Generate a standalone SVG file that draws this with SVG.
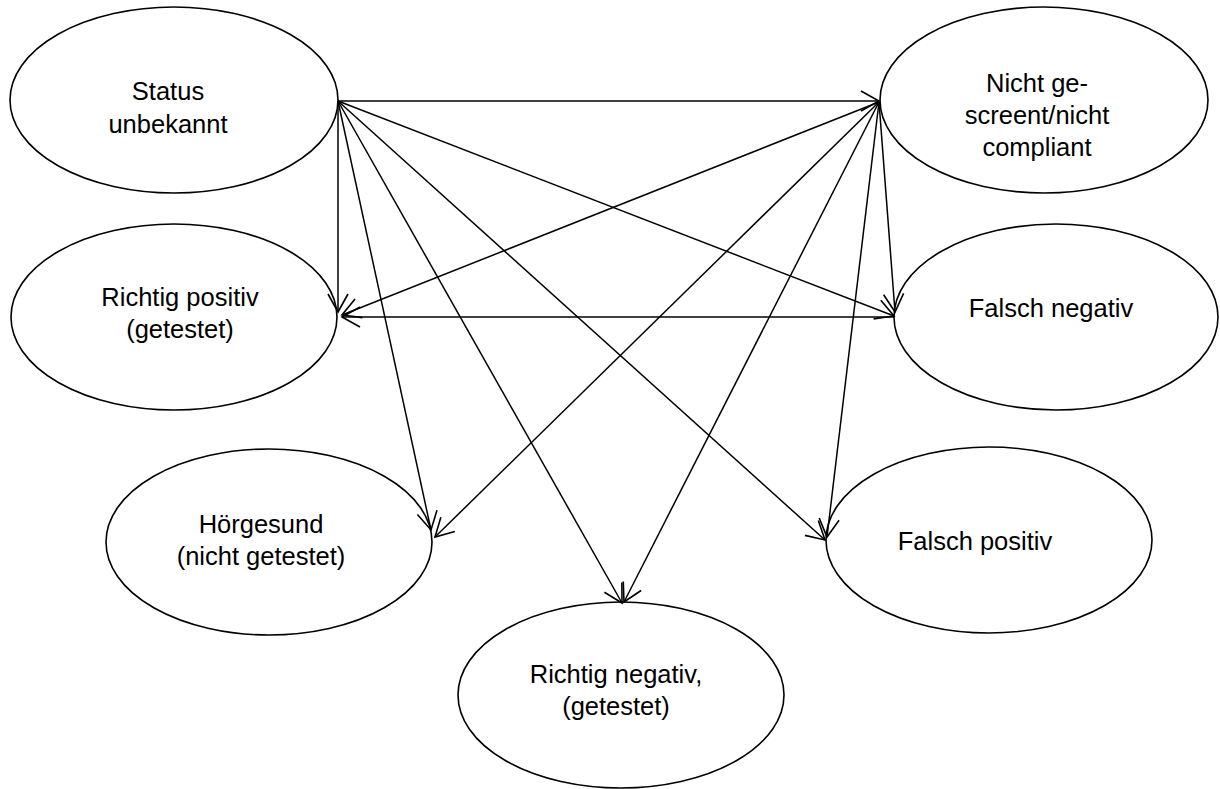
<svg xmlns="http://www.w3.org/2000/svg" width="1220" height="789" viewBox="0 0 1220 789">
<defs>
<style>
.node ellipse{fill:#fff;stroke:#000;stroke-width:1.6}
.node text{font-family:"Liberation Sans",Arial,sans-serif;font-size:25.5px;fill:#000;text-anchor:middle}
.edges line{stroke:#000;stroke-width:1.5;fill:none}
</style>
<marker id="arr" markerUnits="userSpaceOnUse" markerWidth="30" markerHeight="30" viewBox="-22 -15 26 30" refX="0" refY="0" orient="auto">
<path d="M-18,-10 L0,0 L-18,10" fill="none" stroke="#000" stroke-width="1.6"/>
</marker>
</defs>
<rect width="1220" height="789" fill="#fff"/>
<g id="n-status" class="node"><ellipse cx="174" cy="100" rx="164" ry="93"/><text x="168" y="100">Status</text><text x="168" y="133">unbekannt</text></g>
<g id="n-nicht" class="node"><ellipse cx="1044" cy="100" rx="164" ry="93"/><text x="1037" y="92">Nicht ge-</text><text x="1037" y="124">screent/nicht</text><text x="1037" y="156">compliant</text></g>
<g id="n-rp" class="node"><ellipse cx="174" cy="317" rx="163" ry="93"/><text x="180" y="306">Richtig positiv</text><text x="180" y="338">(getestet)</text></g>
<g id="n-fn" class="node"><ellipse cx="1056" cy="317" rx="162" ry="93"/><text x="1051" y="317">Falsch negativ</text></g>
<g id="n-hg" class="node"><ellipse cx="269" cy="542" rx="163" ry="93"/><text x="261" y="533">Hörgesund</text><text x="261" y="565">(nicht getestet)</text></g>
<g id="n-fp" class="node"><ellipse cx="989" cy="540" rx="163" ry="93"/><text x="975" y="550">Falsch positiv</text></g>
<g id="n-rn" class="node"><ellipse cx="621" cy="695" rx="163" ry="93"/><text x="616" y="683">Richtig negativ,</text><text x="616" y="715">(getestet)</text></g>
<g id="edges" class="edges">
<line x1="338" y1="101" x2="879" y2="101" marker-end="url(#arr)"/>
<line x1="338" y1="101" x2="338" y2="312" marker-end="url(#arr)"/>
<line x1="338" y1="101" x2="894" y2="316" marker-end="url(#arr)"/>
<line x1="338" y1="101" x2="431" y2="530" marker-end="url(#arr)"/>
<line x1="338" y1="101" x2="622" y2="603" marker-end="url(#arr)"/>
<line x1="338" y1="101" x2="825" y2="540" marker-end="url(#arr)"/>
<line x1="879" y1="102" x2="342" y2="315" marker-end="url(#arr)"/>
<line x1="879" y1="102" x2="895" y2="312" marker-end="url(#arr)"/>
<line x1="879" y1="102" x2="435" y2="537" marker-end="url(#arr)"/>
<line x1="879" y1="102" x2="624" y2="602" marker-end="url(#arr)"/>
<line x1="879" y1="102" x2="827" y2="537" marker-end="url(#arr)"/>
<line x1="894" y1="317" x2="342" y2="317" marker-end="url(#arr)"/>
</g>
</svg>
